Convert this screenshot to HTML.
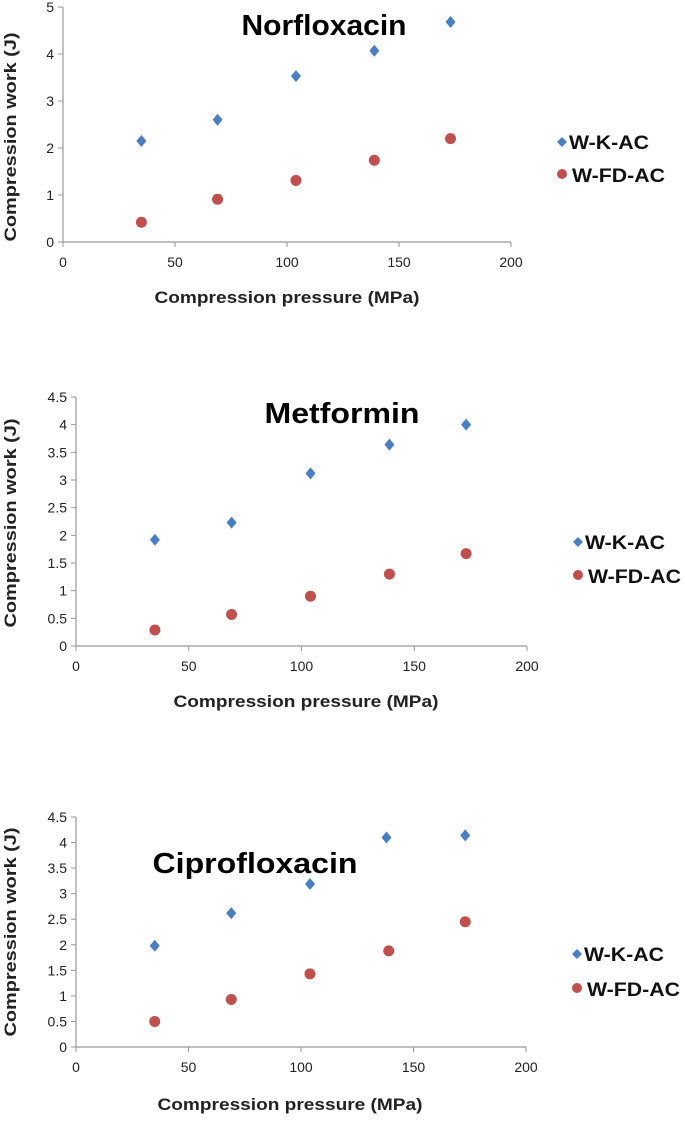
<!DOCTYPE html>
<html><head><meta charset="utf-8"><style>
body{margin:0;background:#fff;width:685px;height:1117px;overflow:hidden}
svg{font-family:"Liberation Sans",Arial,sans-serif}
</style></head><body>
<svg id="s" width="685" height="1117"></svg>
<script>
const xVals=[35,69,104,139,173];
const c1K=[2.15,2.6,3.53,4.07,4.68];
const c1FD=[0.42,0.91,1.31,1.74,2.2];
const c2K=[1.92,2.23,3.12,3.64,4.0];
const c2FD=[0.29,0.57,0.9,1.3,1.67];
const c3xK=[35,69,104,138,173];
const c3K=[1.98,2.62,3.19,4.1,4.14];
const c3FD=[0.5,0.93,1.43,1.88,2.45];
const xTicks=[0,50,100,150,200];
const y1Ticks=[0,1,2,3,4,5];
const y23Ticks=[0,0.5,1,1.5,2,2.5,3,3.5,4,4.5];
const titles=["Norfloxacin","Metformin","Ciprofloxacin"];
const NS="http://www.w3.org/2000/svg";
const svg=document.getElementById('s');
function el(t,a,p){const e=document.createElementNS(NS,t);for(const k in a)e.setAttribute(k,a[k]);(p||svg).appendChild(e);return e;}
const cfg=[
 {x0:63,x1:511,y0:242,y1:7,ymax:5,yt:y1Ticks,xk:xVals,k:c1K,fd:c1FD,tx:324,ty:35,tw:165,lx:562,ly:[142,174],xtx:287,xt:303,ytc:137},
 {x0:76,x1:527,y0:646,y1:397,ymax:4.5,yt:y23Ticks,xk:xVals,k:c2K,fd:c2FD,tx:342,ty:423,tw:155,lx:578,ly:[542,575],xtx:306,xt:707,ytc:523},
 {x0:76,x1:526,y0:1047,y1:817,ymax:4.5,yt:y23Ticks,xk:c3xK,k:c3K,fd:c3FD,tx:255,ty:873,tw:205,lx:577,ly:[954,988],xtx:290,xt:1110,ytc:932}
];
cfg.forEach((c,i)=>{
 const g=el('g',{});
 
 
 const X=v=>c.x0+(v/200)*(c.x1-c.x0);
 const Y=v=>c.y0-(v/c.ymax)*(c.y0-c.y1);
 const ax=el('path',{d:`M${c.x0} ${c.y1}V${c.y0}H${c.x1}`,stroke:'#999',fill:'none','stroke-width':1.2},g);
 
 xTicks.forEach(t=>{el('line',{x1:X(t),x2:X(t),y1:c.y0,y2:c.y0+5,stroke:'#999'},g);
  const tl=el('text',{x:X(t),y:c.y0+25,'text-anchor':'middle','font-size':14,fill:'#222'},g);tl.textContent=t;
  });
 c.yt.forEach(t=>{el('line',{x1:c.x0-5,x2:c.x0,y1:Y(t),y2:Y(t),stroke:'#999'},g);
  const tl=el('text',{x:c.x0-9,y:Y(t)+5,'text-anchor':'end','font-size':14,fill:'#222'},g);tl.textContent=t;
  });
 const tt=el('text',{x:c.tx,y:c.ty,'text-anchor':'middle','font-size':29,'font-weight':'bold',textLength:c.tw,lengthAdjust:'spacingAndGlyphs'},g);tt.textContent=titles[i];
 
 const xt=el('text',{x:c.xtx,y:c.xt,'text-anchor':'middle','font-size':17,'font-weight':'bold',fill:'#222',textLength:265,lengthAdjust:'spacingAndGlyphs'},g);xt.textContent='Compression pressure (MPa)';
 
 const yt=el('text',{x:0,y:0,transform:`translate(16,${c.ytc}) rotate(-90)`,'text-anchor':'middle','font-size':17,'font-weight':'bold',fill:'#222',textLength:209,lengthAdjust:'spacingAndGlyphs'},g);yt.textContent='Compression work (J)';
 
 c.k.forEach((v,j)=>{const x=X(c.xk[j]),y=Y(v);
  const m=el('path',{d:`M${x} ${y-6}L${x+5} ${y}L${x} ${y+6}L${x-5} ${y}Z`,fill:'#4a7ec2'},g);
  });
 c.fd.forEach((v,j)=>{const m=el('circle',{cx:X(xVals[j]),cy:Y(v),r:5.5,fill:'#c0504d'},g);
  });
 const l1=el('path',{d:`M${c.lx} ${c.ly[0]-5}L${c.lx+5} ${c.ly[0]}L${c.lx} ${c.ly[0]+5}L${c.lx-5} ${c.ly[0]}Z`,fill:'#4a7ec2'},g);
 
 const lt1=el('text',{x:c.lx+7,y:c.ly[0]+7,'font-size':19,'font-weight':'bold',fill:'#111',textLength:80,lengthAdjust:'spacingAndGlyphs'},g);lt1.textContent='W-K-AC';
 
 const l2=el('circle',{cx:c.lx,cy:c.ly[1],r:5,fill:'#c0504d'},g);
 
 const lt2=el('text',{x:c.lx+10,y:c.ly[1]+8,'font-size':19,'font-weight':'bold',fill:'#111',textLength:93,lengthAdjust:'spacingAndGlyphs'},g);lt2.textContent='W-FD-AC';
 
});
</script>
</body></html>
